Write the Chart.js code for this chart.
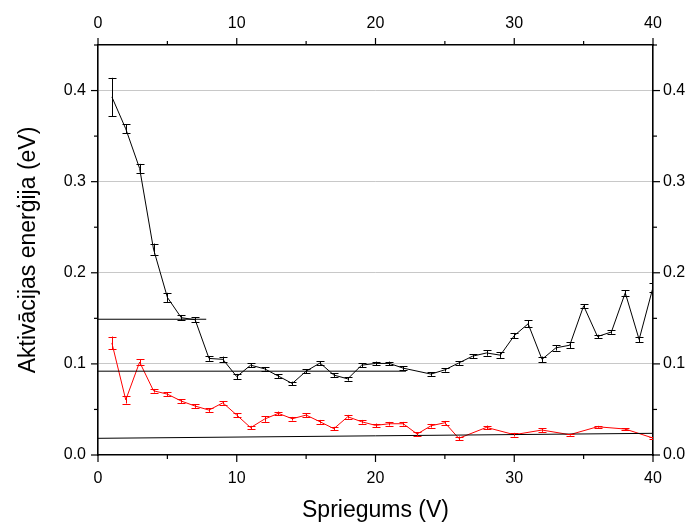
<!DOCTYPE html>
<html><head><meta charset="utf-8">
<script src="https://cdn.jsdelivr.net/npm/chart.js@4"></script>
<style>html,body{margin:0;padding:0;background:#fff}#wrap{width:694px;height:524px}</style>
</head><body><div id="wrap"><canvas id="c" width="694" height="524"></canvas></div>
<script>
const blackX = [1,2,3,4,5,6,7,8,9,10,11,12,13,14,15,16,17,18,19,20,21,22,24,25,26,27,28,29,30,31,32,33,34,35,36,37,38,39,40];
const blackY = [0.393,0.358,0.3145,0.226,0.173,0.1507,0.1485,0.106,0.105,0.086,0.0986,0.0946,0.0866,0.0785,0.092,0.101,0.0877,0.0836,0.0986,0.1005,0.1005,0.0953,0.0888,0.0935,0.101,0.1085,0.112,0.1096,0.131,0.144,0.105,0.1176,0.1205,0.1637,0.130,0.135,0.178,0.1268,0.184];
const blackErr = [0.021,0.005,0.005,0.006,0.005,0.003,0.0025,0.0026,0.003,0.003,0.002,0.002,0.002,0.002,0.002,0.002,0.002,0.002,0.002,0.002,0.002,0.002,0.002,0.002,0.002,0.002,0.003,0.003,0.003,0.004,0.003,0.003,0.003,0.002,0.002,0.002,0.003,0.003,0.005];
const redX = [1,2,3,4,5,6,7,8,9,10,11,12,13,14,15,16,17,18,19,20,21,22,23,24,25,26,28,30,32,34,36,38,40];
const redY = [0.123,0.0605,0.102,0.0705,0.0668,0.0592,0.0537,0.0493,0.0573,0.0438,0.030,0.0394,0.0457,0.0398,0.0438,0.0365,0.0289,0.042,0.0365,0.0325,0.0343,0.0343,0.023,0.0321,0.0354,0.0183,0.0303,0.0223,0.0274,0.0223,0.031,0.0285,0.0186];
const redErr = [0.007,0.004,0.003,0.002,0.002,0.002,0.002,0.002,0.002,0.002,0.002,0.003,0.002,0.002,0.002,0.002,0.002,0.002,0.002,0.002,0.002,0.002,0.002,0.002,0.002,0.002,0.002,0.002,0.002,0.001,0.001,0.001,0.001];
const line1X = [0, 7.8], line1Y = [0.149, 0.149];
const line2X = [0, 22.2], line2Y = [0.092, 0.092];
const line3X = [0, 40], line3Y = [0.0183, 0.0238];
const xTitle = 'Spriegums (V)';
const yTitle = 'Aktivācijas enerģija (eV)';

const pts = (xs, ys) => xs.map((x, i) => ({x: x, y: ys[i]}));
const FONT = '"Liberation Sans", Arial, sans-serif';

const errorBars = {
  id: 'errorBars',
  afterDatasetsDraw(chart) {
    const ctx = chart.ctx, ys = chart.scales.y, area = chart.chartArea;
    ctx.save();
    ctx.beginPath(); ctx.rect(area.left, area.top, area.right - area.left, area.bottom - area.top); ctx.clip();
    chart.data.datasets.forEach((ds, di) => {
      if (!ds.errors) return;
      const meta = chart.getDatasetMeta(di);
      ctx.strokeStyle = ds.borderColor; ctx.lineWidth = 1;
      meta.data.forEach((el, i) => {
        const v = ds.data[i].y, e = ds.errors[i];
        const t = ys.getPixelForValue(v + e), b = ys.getPixelForValue(v - e);
        const px = Math.round(el.x) + 0.5;
        ctx.beginPath();
        ctx.moveTo(px, t); ctx.lineTo(px, b);
        ctx.moveTo(px - 4, Math.round(t) + 0.5); ctx.lineTo(px + 4, Math.round(t) + 0.5);
        ctx.moveTo(px - 4, Math.round(b) + 0.5); ctx.lineTo(px + 4, Math.round(b) + 0.5);
        ctx.stroke();
      });
    });
    ctx.restore();
  }
};

const tickMarks = {
  id: 'tickMarks',
  afterDraw(chart) {
    const ctx = chart.ctx, s = chart.scales;
    ctx.save(); ctx.strokeStyle = '#000'; ctx.lineWidth = 1.2;
    const seg = (a, b, c, d) => { ctx.beginPath(); ctx.moveTo(a, b); ctx.lineTo(c, d); ctx.stroke(); };
    s.x.ticks.forEach(t => { const len = t.label !== '' ? 7 : 4; const p = s.x.getPixelForValue(t.value); seg(p, s.x.top, p, s.x.top + len); });
    s.x2.ticks.forEach(t => { const len = t.label !== '' ? 7 : 4; const p = s.x2.getPixelForValue(t.value); seg(p, s.x2.bottom, p, s.x2.bottom - len); });
    s.y.ticks.forEach(t => { const len = t.label !== '' ? 7 : 4; const p = s.y.getPixelForValue(t.value); seg(s.y.right, p, s.y.right - len, p); });
    s.y2.ticks.forEach(t => { const len = t.label !== '' ? 7 : 4; const p = s.y2.getPixelForValue(t.value); seg(s.y2.left, p, s.y2.left + len, p); });
    ctx.restore();
  }
};

const xLabel = v => (Math.round(v) % 10 === 0 ? String(Math.round(v)) : '');
const yLabel = v => (Math.round(v * 100) % 10 === 0 ? v.toFixed(1) : '');
const noTickGrid = {drawOnChartArea: false, drawTicks: true, tickLength: 8, tickColor: 'rgba(0,0,0,0)'};
const border = {display: true, color: '#000', width: 1.6};
const tickFont = {family: FONT, size: 16};

new Chart(document.getElementById('c'), {
  type: 'scatter',
  data: {
    datasets: [
      {data: pts(line1X, line1Y), showLine: true, borderColor: '#000', borderWidth: 1, pointRadius: 0},
      {data: pts(line2X, line2Y), showLine: true, borderColor: '#000', borderWidth: 1, pointRadius: 0},
      {data: pts(line3X, line3Y), showLine: true, borderColor: '#000', borderWidth: 1, pointRadius: 0},
      {data: pts(redX, redY), errors: redErr, showLine: true, borderColor: '#ff0000', borderWidth: 1, pointRadius: 0},
      {data: pts(blackX, blackY), errors: blackErr, showLine: true, borderColor: '#000', borderWidth: 1, pointRadius: 0}
    ]
  },
  options: {
    responsive: false, animation: false, devicePixelRatio: 1,
    layout: {padding: 0},
    plugins: {legend: {display: false}, tooltip: {enabled: false}},
    scales: {
      x: {type: 'linear', position: 'bottom', min: 0, max: 40,
        ticks: {stepSize: 5, callback: xLabel, font: tickFont, color: '#000', padding: 6, maxRotation: 0, autoSkip: false},
        grid: noTickGrid, border: border,
        title: {display: true, text: xTitle, font: {family: FONT, size: 23}, color: '#000', padding: {top: 0, bottom: 0}},
        afterFit(sc) { sc.height = 69; }},
      x2: {type: 'linear', position: 'top', min: 0, max: 40,
        ticks: {stepSize: 5, callback: xLabel, font: tickFont, color: '#000', padding: 4, maxRotation: 0, autoSkip: false},
        grid: noTickGrid, border: border,
        afterFit(sc) { sc.height = 45; }},
      y: {type: 'linear', position: 'left', min: 0, max: 0.45,
        ticks: {stepSize: 0.05, callback: yLabel, font: tickFont, color: '#000', padding: 4, autoSkip: false},
        grid: {drawOnChartArea: true, drawTicks: true, tickLength: 8, tickColor: 'rgba(0,0,0,0)', lineWidth: 1,
          color: c => (c.tick && c.tick.value > 0.001 && Math.round(c.tick.value * 100) % 10 === 0) ? '#c8c8c8' : 'rgba(0,0,0,0)'},
        border: border,
        title: {display: true, text: yTitle, font: {family: FONT, size: 23}, color: '#000', padding: {top: 15, bottom: 0}},
        afterFit(sc) { sc.width = 98; }},
      y2: {type: 'linear', position: 'right', min: 0, max: 0.45,
        ticks: {stepSize: 0.05, callback: yLabel, font: tickFont, color: '#000', padding: 2, autoSkip: false},
        grid: noTickGrid, border: border,
        afterFit(sc) { sc.width = 41; }}
    }
  },
  plugins: [errorBars, tickMarks]
});
</script>
</body></html>
